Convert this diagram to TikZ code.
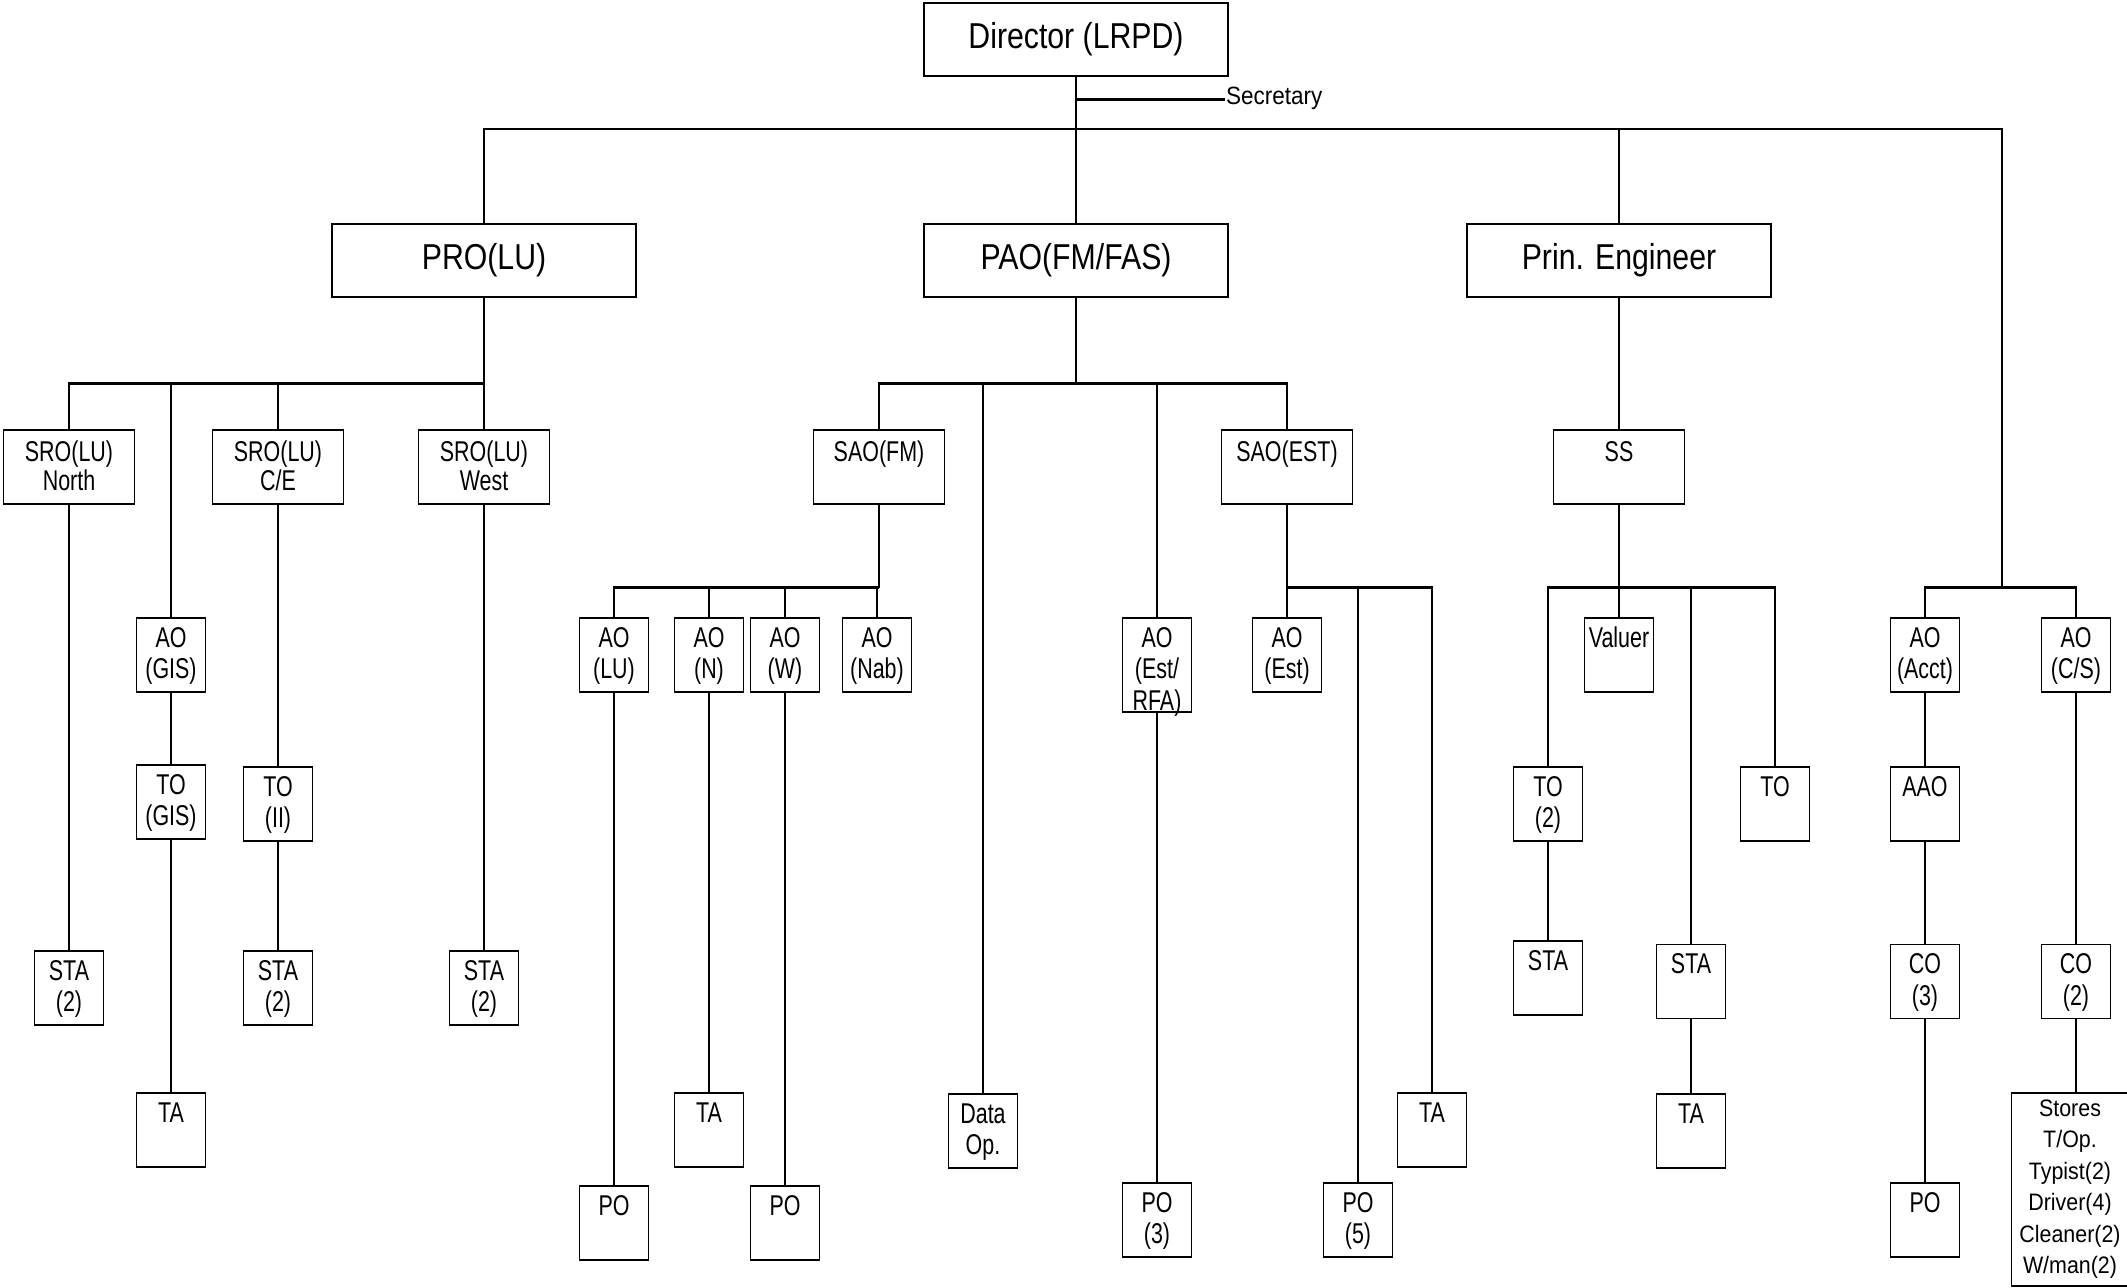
\documentclass[tikz,border=0pt]{standalone}
\usepackage{fontspec}
\setmainfont{Liberation Sans}
\newfontfamily\bigfont[FakeStretch=0.84]{Liberation Sans}
\newfontfamily\smallfont[FakeStretch=0.75]{Liberation Sans}
\newfontfamily\narrowfont[FakeStretch=0.9]{Liberation Sans}

\begin{document}
\begin{tikzpicture} [x=0.5pt, y=-0.5pt, line width=1.1pt,
  head/.style={rectangle, draw, line width=0.8pt, minimum width=152pt, minimum height=36.5pt, inner sep=0pt, font=\bigfont\fontsize{18}{20}\selectfont},
  mid/.style={rectangle, draw, line width=0.8pt, anchor=north, align=center, text width=65.5pt, text height=16pt, text depth=21pt, inner sep=0pt, font=\smallfont\fontsize{14.3}{14.5}\selectfont},
  post/.style={mid, text width=34.5pt, text height=14.6pt, text depth=22.4pt, font=\smallfont\fontsize{14.3}{15.75}\selectfont},
  stores/.style={post, text width=58.5pt, text height=11.75pt, text depth=84.75pt, font=\narrowfont\fontsize{11.9}{15.75}\selectfont}]
  \useasboundingbox (0,0) rectangle (2127,1287);
  \clip (0,0) rectangle (2127,1287);

  %% Director and heads
  \node [head] (director) at (1076,39.5) {Director (LRPD)};
  \node [anchor=base west, inner sep=0pt, font=\narrowfont\fontsize{12.5}{14}\selectfont] (sec) at (1225,104) {Secretary};
  \coordinate (secpt) at (1225,99.5);
  \coordinate (topbus) at (1076,129);
  \node [head] (pro) at (484,260.5) {PRO(LU)};
  \node [head] (pao) at (1076,260.5) {PAO(FM/FAS)};
  \node [head] (prin) at (1619,260.5) {Prin. Engineer};

  %% PRO(LU) branch
  \node [mid] (sron) at (69,429) {SRO(LU)\\North};
  \node [post] (aogis) at (171,617) {AO\\(GIS)};
  \node [mid] (sroce) at (278,429) {SRO(LU)\\C/E};
  \node [mid] (srow) at (484,429) {SRO(LU)\\West};
  \node [post] (sta1) at (69,950) {STA\\(2)};
  \node [post] (togis) at (171,764) {TO\\(GIS)};
  \node [post] (ta1) at (171,1092) {TA};
  \node [post] (toii) at (278,766) {TO\\(II)};
  \node [post] (sta2) at (278,950) {STA\\(2)};
  \node [post] (sta3) at (484,950) {STA\\(2)};

  %% PAO(FM/FAS) branch
  \node [mid] (saofm) at (879,429) {SAO(FM)};
  \node [post] (aolu) at (614,617) {AO\\(LU)};
  \node [post] (aon) at (709,617) {AO\\(N)};
  \node [post] (aow) at (785,617) {AO\\(W)};
  \node [post] (aonab) at (877,617) {AO\\(Nab)};
  \node [post] (polu) at (614,1185) {PO};
  \node [post] (ta2) at (709,1092) {TA};
  \node [post] (pow) at (785,1185) {PO};
  \node [post] (dataop) at (983,1093) {Data\\Op.};
  \node [post, text depth=32.5pt] (aoestrfa) at (1157,617) {AO\\(Est/\\RFA)};
  \node [post] (po3) at (1157,1182) {PO\\(3)};
  \node [mid] (saoest) at (1287,429) {SAO(EST)};
  \node [post] (aoest) at (1287,617) {AO\\(Est)};
  \node [post] (po5) at (1358,1182) {PO\\(5)};
  \node [post] (ta3) at (1432,1092) {TA};

  %% Prin. Engineer branch
  \node [mid] (ss) at (1619,429) {SS};
  \node [post] (to2) at (1548,766) {TO\\(2)};
  \node [post] (sta4) at (1548,940) {STA};
  \node [post] (valuer) at (1619,617) {Valuer};
  \node [post] (sta5) at (1691,943.5) {STA};
  \node [post] (ta4) at (1691,1093) {TA};
  \node [post] (to3) at (1775,766) {TO};

  %% Accounts and stores
  \node [post] (aoacct) at (1925,617) {AO\\(Acct)};
  \node [post] (aao) at (1925,766) {AAO};
  \node [post] (co3) at (1925,943.5) {CO\\(3)};
  \node [post] (po6) at (1925,1182) {PO};
  \node [post] (aocs) at (2076,617) {AO\\(C/S)};
  \node [post] (co2) at (2076,943.5) {CO\\(2)};
  \node [stores] (stores) at (2070,1092) {Stores\\T/Op.\\Typist(2)\\Driver(4)\\Cleaner(2)\\W/man(2)};

  % Draw edges
  \draw (director) -- (topbus);
  \draw (director.south |- secpt) -- (secpt);
  \draw (pro) |- (topbus);
  \draw (pao) -- (topbus);
  \draw (prin) |- (topbus);
  \coordinate (acctbus) at (2002,587.5);
  \draw (topbus) -| (acctbus);

  \coordinate (probus) at (484,383.5);
  \draw (pro) -- (srow);
  \draw (sron) |- (probus);
  \draw (aogis) |- (probus);
  \draw (sroce) |- (probus);
  \draw (sron) -- (sta1);
  \draw (aogis) -- (togis);
  \draw (togis) -- (ta1);
  \draw (sroce) -- (toii);
  \draw (toii) -- (sta2);
  \draw (srow) -- (sta3);

  \coordinate (paobus) at (1076,383.5);
  \draw (pao) -- (paobus);
  \draw (saofm) |- (paobus);
  \draw (dataop) |- (paobus);
  \draw (aoestrfa) |- (paobus);
  \draw (saoest) |- (paobus);
  \coordinate (fmbus) at (879,587.5);
  \draw (saofm) -- (fmbus);
  \draw (aolu) |- (fmbus);
  \draw (aon) |- (fmbus);
  \draw (aow) |- (fmbus);
  \draw (aonab) |- (fmbus);
  \draw (aolu) -- (polu);
  \draw (aon) -- (ta2);
  \draw (aow) -- (pow);
  \draw (aoestrfa) -- (po3);
  \coordinate (estbus) at (1287,587.5);
  \draw (saoest) -- (aoest);
  \draw (po5) |- (estbus);
  \draw (ta3) |- (estbus);

  \coordinate (ssbus) at (1619,587.5);
  \draw (prin) -- (ss);
  \draw (ss) -- (valuer);
  \draw (to2) |- (ssbus);
  \draw (sta5) |- (ssbus);
  \draw (to3) |- (ssbus);
  \draw (to2) -- (sta4);
  \draw (sta5) -- (ta4);

  \draw (aoacct) |- (acctbus);
  \draw (aocs) |- (acctbus);
  \draw (aoacct) -- (aao);
  \draw (aao) -- (co3);
  \draw (co3) -- (po6);
  \draw (aocs) -- (co2);
  \draw (co2) -- (co2 |- stores.north);
\end{tikzpicture}
\end{document}
